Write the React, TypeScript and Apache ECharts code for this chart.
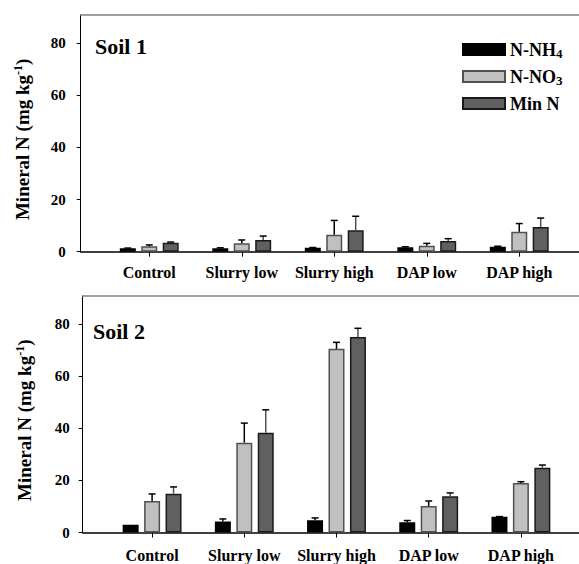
import React, { useEffect, useRef } from "react";
import * as echarts from "echarts";

const categories = ["Control", "Slurry low", "Slurry high", "DAP low", "DAP high"];
const seriesNames = ["N-NH4", "N-NO3", "Min N"];
const yTicks = [0, 20, 40, 60, 80];

const soil1NH4 = [1.3, 1.3, 1.5, 1.7, 1.9];
const soil1NH4Se = [0.1, 0.2, 0.1, 0.2, 0.2];
const soil1NO3 = [2.1, 3.2, 6.5, 2.3, 7.7];
const soil1NO3Se = [0.5, 1.3, 5.5, 0.9, 3.1];
const soil1Min = [3.4, 4.5, 8.2, 4.1, 9.5];
const soil1MinSe = [0.3, 1.5, 5.4, 0.9, 3.4];

const soil2NH4 = [3.0, 4.2, 4.7, 3.9, 6.0];
const soil2NH4Se = [0, 1.0, 0.9, 0.7, 0.1];
const soil2NO3 = [12.1, 34.5, 70.5, 10.2, 19.0];
const soil2NO3Se = [2.7, 7.5, 2.5, 1.9, 0.5];
const soil2Min = [14.9, 38.3, 75.1, 13.9, 24.9];
const soil2MinSe = [2.6, 8.8, 3.3, 1.3, 1.0];

const FONT = '"Liberation Serif", "Times New Roman", serif';
const Y_MAX = 90.8;
const BAR_W = 16;
const BAR_GAP = 0.34;
const BAR_STEP = BAR_W * (1 + BAR_GAP);
const CAP = 3.5;
const fills = ["#000000", "#c0c0c0", "#606060"];
const borders = ["#000000", "#505050", "#1a1a1a"];
const errStroke = ["#000000", "#000000", "#505050"];

export default function App() {
  const ref = useRef<HTMLDivElement>(null);
  useEffect(() => {
    if (!ref.current) return;
    const chart = echarts.init(ref.current, null, { renderer: "svg" });

    const panels = [
      { frameLeft: 80.7, barLeft: 103, barWidth: 462.5, top: 15, bottom: 312.3, labelMargin: 15, catMargin: 13,
        means: [soil1NH4, soil1NO3, soil1Min], ses: [soil1NH4Se, soil1NO3Se, soil1MinSe] },
      { frameLeft: 82.7, barLeft: 106, barWidth: 461, top: 296, bottom: 31.5, labelMargin: 13, catMargin: 15,
        means: [soil2NH4, soil2NO3, soil2Min], ses: [soil2NH4Se, soil2NO3Se, soil2MinSe] },
    ];

    const grid: any[] = [];
    const xAxis: any[] = [];
    const yAxis: any[] = [];
    const series: any[] = [];

    panels.forEach((p) => {
      const gFrame = grid.length;
      grid.push({ left: p.frameLeft, right: 0, top: p.top, bottom: p.bottom });
      const gBar = grid.length;
      grid.push({ left: p.barLeft, width: p.barWidth, top: p.top, bottom: p.bottom });

      xAxis.push({
        type: "value", gridIndex: gFrame, min: 0, max: 1, position: "bottom",
        axisLine: { show: true, lineStyle: { color: "#000", width: 1.5 } },
        axisTick: { show: false }, axisLabel: { show: false }, splitLine: { show: false },
      });
      xAxis.push({
        type: "value", gridIndex: gFrame, min: 0, max: 1, position: "top",
        axisLine: { show: true, onZero: false, lineStyle: { color: "#808080", width: 1.5 } },
        axisTick: { show: false }, axisLabel: { show: false }, splitLine: { show: false },
      });
      const xCat = xAxis.length;
      xAxis.push({
        type: "category", gridIndex: gBar, data: categories,
        axisLine: { show: false },
        axisTick: { show: true, alignWithLabel: true, interval: 0, length: 5, lineStyle: { color: "#000", width: 1 } },
        axisLabel: { interval: 0, fontFamily: FONT, fontWeight: "bold", fontSize: 16, color: "#000", margin: p.catMargin },
        splitLine: { show: false },
      });

      yAxis.push({
        type: "value", gridIndex: gFrame, min: 0, max: Y_MAX,
        axisLine: { show: true, lineStyle: { color: "#000", width: 1 } },
        axisTick: { show: true, length: 4, customValues: yTicks, lineStyle: { color: "#000" } },
        axisLabel: { customValues: yTicks, fontFamily: FONT, fontWeight: "bold", fontSize: 15, color: "#000", margin: p.labelMargin },
        splitLine: { show: false },
        name: "Mineral N (mg kg{sup|-1})",
        nameLocation: "middle",
        nameGap: 47,
        nameTextStyle: {
          fontFamily: FONT, fontWeight: "bold", fontSize: 19, color: "#000", lineHeight: 22,
          padding: [0, 12, 0, 0],
          rich: { sup: { fontFamily: FONT, fontWeight: "bold", fontSize: 12, lineHeight: 12, verticalAlign: "top", color: "#000" } },
        },
      });
      const yBar = yAxis.length;
      yAxis.push({ type: "value", gridIndex: gBar, min: 0, max: Y_MAX, show: false, splitLine: { show: false } });

      seriesNames.forEach((name, si) => {
        series.push({
          type: "bar", name, xAxisIndex: xCat, yAxisIndex: yBar,
          data: p.means[si], barWidth: BAR_W, barGap: BAR_GAP * 100 + "%",
          itemStyle: { color: fills[si], borderColor: borders[si], borderWidth: 1.5 },
          z: 3,
        });
      });
      seriesNames.forEach((name, si) => {
        const means = p.means[si];
        const ses = p.ses[si];
        series.push({
          type: "custom", xAxisIndex: xCat, yAxisIndex: yBar, silent: true, z: 4,
          data: means.map((m, i) => [i, m, m + ses[i]]),
          renderItem: (params: any, api: any) => {
            const lo = api.value(1);
            const hi = api.value(2);
            if (hi - lo <= 0.05) return null;
            const base = api.coord([api.value(0), lo]);
            const top = api.coord([api.value(0), hi]);
            const x = base[0] + (si - 1) * BAR_STEP;
            return {
              type: "group",
              children: [
                { type: "line", shape: { x1: x, y1: base[1], x2: x, y2: top[1] }, style: { stroke: errStroke[si], lineWidth: 1.5 } },
                { type: "line", shape: { x1: x - CAP, y1: top[1], x2: x + CAP, y2: top[1] }, style: { stroke: "#000", lineWidth: 1.5 } },
              ],
            };
          },
        });
      });
    });

    const legendLabel: Record<string, string> = {
      "N-NH4": "N-NH{sub|4}",
      "N-NO3": "N-NO{sub|3}",
      "Min N": "Min N",
    };

    chart.setOption({
      animation: false,
      backgroundColor: "#fff",
      title: [
        { text: "Soil 1", left: 95, top: 35, padding: 0, textStyle: { fontFamily: FONT, fontWeight: "bold", fontSize: 22, color: "#000" } },
        { text: "Soil 2", left: 93, top: 320, padding: 0, textStyle: { fontFamily: FONT, fontWeight: "bold", fontSize: 22, color: "#000" } },
      ],
      legend: {
        data: seriesNames,
        orient: "vertical",
        left: 462,
        top: 39.5,
        padding: 0,
        itemWidth: 42,
        itemHeight: 11,
        itemGap: 7,
        itemTextGap: 9,
        icon: "rect",
        formatter: (n: string) => legendLabel[n] || n,
        textStyle: {
          fontFamily: FONT, fontWeight: "bold", fontSize: 18, color: "#000", lineHeight: 20,
          rich: { sub: { fontFamily: FONT, fontWeight: "bold", fontSize: 13, lineHeight: 13, verticalAlign: "bottom", color: "#000" } },
        },
      },
      grid,
      xAxis,
      yAxis,
      series,
    });
    return () => chart.dispose();
  }, []);
  return <div ref={ref} style={{ position: "absolute", left: 0, top: 0, width: 579, height: 564 }} />;
}
